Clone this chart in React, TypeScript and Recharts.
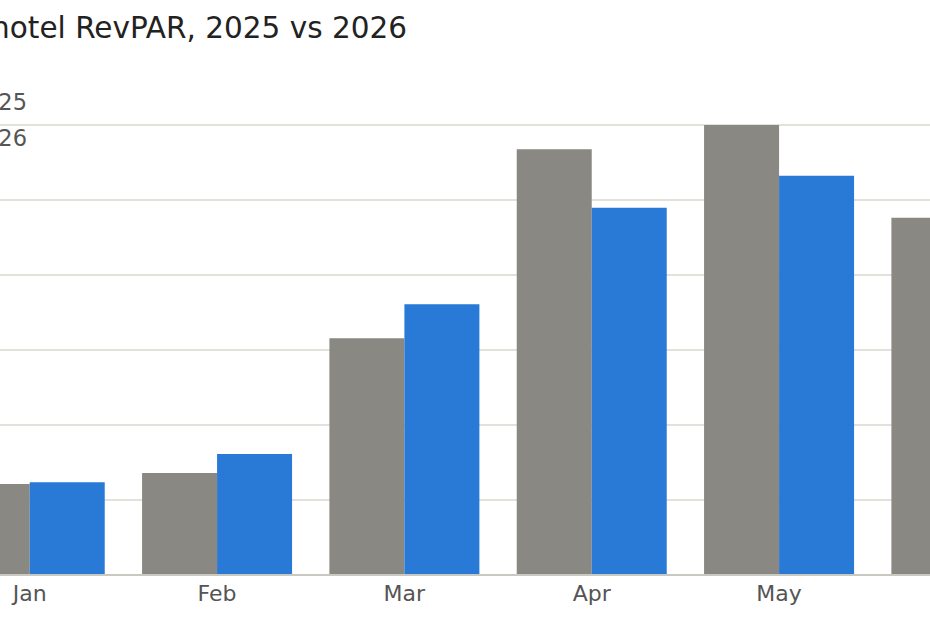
import React from 'react';
import { BarChart, Bar, XAxis, YAxis, CartesianGrid } from 'recharts';

// Months shown on the category axis
const months = ['Jan', 'Feb', 'Mar', 'Apr', 'May', 'Jun'];

// RevPAR per month (USD)
const revpar2025 = [36.4, 40.8, 94.7, 170.3, 180, 142.9];
const revpar2026 = [37.1, 48.4, 108.3, 146.9, 159.7, null];

const yTicks = [0, 30, 60, 90, 120, 150, 180];

const GRAY = '#898882';
const BLUE = '#2979d6';

const series = [
  { key: 'y2025', name: '2025', color: GRAY },
  { key: 'y2026', name: '2026', color: BLUE },
];

const data = months.map((month, i) => ({
  month,
  y2025: revpar2025[i],
  y2026: revpar2026[i],
}));

const FONT = '"DejaVu Sans", sans-serif';

export default function App() {
  return (
    <div
      style={{
        position: 'fixed',
        left: 0,
        top: 0,
        width: 930,
        height: 620,
        overflow: 'hidden',
        background: '#fff',
        fontFamily: FONT,
      }}
    >
      <div style={{ position: 'absolute', left: -160, top: 0 }}>
        <BarChart
          width={1220}
          height={620}
          data={data}
          margin={{ top: 125, right: 0, bottom: 0, left: 96 }}
          barCategoryGap="10%"
          barGap={0}
        >
          <CartesianGrid vertical={false} stroke="#e2e2dc" strokeWidth={2} />
          <XAxis
            dataKey="month"
            height={45}
            tickLine={false}
            tickMargin={4}
            axisLine={{ stroke: '#cac9c1', strokeWidth: 2 }}
            tick={{ fill: '#555', fontSize: 22, fontFamily: FONT }}
          />
          <YAxis hide domain={[0, 180]} ticks={yTicks} />
          {series.map((s) => (
            <Bar
              key={s.key}
              dataKey={s.key}
              name={s.name}
              fill={s.color}
              isAnimationActive={false}
            />
          ))}
        </BarChart>
      </div>

      {/* Title */}
      <div
        style={{
          position: 'absolute',
          right: 523,
          top: 14,
          fontSize: 29.5,
          lineHeight: 1,
          color: '#222',
          whiteSpace: 'nowrap',
        }}
      >
        Average hotel RevPAR, 2025 vs 2026
      </div>

      {/* Legend */}
      {series.map((s, i) => (
        <div
          key={s.key}
          style={{
            position: 'absolute',
            right: 903,
            top: 91 + i * 36,
            display: 'flex',
            alignItems: 'center',
            gap: 8,
            fontSize: 22.5,
            lineHeight: 1,
            color: '#555',
            whiteSpace: 'nowrap',
          }}
        >
          <span
            style={{
              display: 'inline-block',
              width: 18,
              height: 18,
              background: s.color,
            }}
          />
          {s.name}
        </div>
      ))}
    </div>
  );
}
